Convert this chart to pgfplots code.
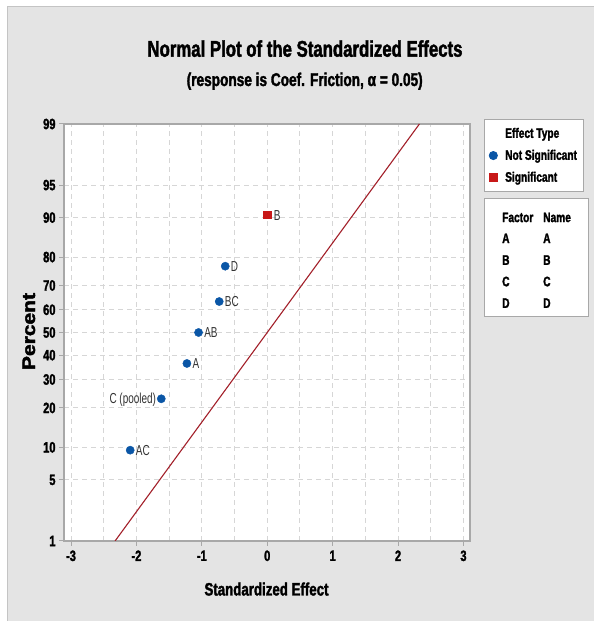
\documentclass[border=0pt]{standalone}
\usepackage{fontspec}
\setmainfont{Liberation Sans}
\newfontfamily\cond[FakeStretch=0.74, BoldFeatures={FakeBold=1.8}]{Liberation Sans}
\newfontfamily\labfont[FakeStretch=0.69]{Liberation Sans}
\usepackage{pgfplots}
\pgfplotsset{compat=1.18}

\definecolor{bggray}{HTML}{E4E4E4}
\definecolor{edgegray}{HTML}{C4C4C4}
\definecolor{framegray}{HTML}{A8A8A8}
\definecolor{gridgray}{HTML}{D6D6D6}
\definecolor{effblue}{HTML}{0A56A6}
\definecolor{effred}{HTML}{C81818}
\definecolor{refred}{HTML}{A3202A}
\definecolor{labgray}{HTML}{333333}

% compact single-marker legend image
\pgfplotsset{
  dot legend/.style={legend image code/.code={%
    \path (0bp,0bp) (9bp,0bp);
    \draw[##1] plot coordinates {(4.5bp,0bp)};}},
  effect label/.style={point meta=explicit symbolic, nodes near coords,
    nodes near coords style={inner sep=0pt, text=labgray,
      font=\labfont\fontsize{14.5}{15}\selectfont, text height=10.4bp, text depth=0pt}},
}

\begin{document}
\begin{tikzpicture}[x=1bp,y=1bp]
\useasboundingbox (0,0) rectangle (594,621);
\fill[white] (0,0) rectangle (594,621);
\fill[bggray] (7,0) rectangle (594,615);
\draw[edgegray, line width=0.8bp] (7,0) -- (7,615) -- (594,615);

% titles
\node[anchor=base] at (305,564.3)
  {\resizebox{315bp}{!}{\cond\bfseries\fontsize{24}{24}\selectfont Normal Plot of the Standardized Effects}};
\node[anchor=base] at (304.7,535)
  {\resizebox{236bp}{!}{\cond\bfseries\fontsize{18}{18}\selectfont (response is Coef. Friction, α = 0.05)}};
\node[anchor=base] at (266.5,25.5)
  {\resizebox{124bp}{!}{\cond\bfseries\fontsize{18}{18}\selectfont Standardized Effect}};
\node[anchor=base, rotate=90, inner sep=0pt] at (35,289.5)
  {\resizebox{77bp}{12.5bp}{\cond\bfseries Percent}};

\begin{axis}[
  at={(64bp,80bp)}, anchor=south west,
  scale only axis, width=406bp, height=417bp,
  xmin=-3.107, xmax=3.10, ymin=-2.3263, ymax=2.3263,
  axis background/.style={fill=white},
  axis line style={framegray, line width=1.2bp},
  xtick={-3,-2,-1,0,1,2,3},
  xticklabels={-3,-2,-1,0,1,2,3},
  minor xtick={-2.5,-1.5,-0.5,0.5,1.5,2.5},
  % normal-probability positions of the percent ticks
  ytick={-2.3263,-1.6449,-1.2816,-0.8416,-0.5244,-0.2533,0,0.2533,0.5244,0.8416,1.2816,1.6449,2.3263},
  yticklabels={1,5,10,20,30,40,50,60,70,80,90,95,99},
  tick align=outside, tick pos=left,
  major tick length=5bp, minor tick length=0pt,
  tick style={framegray, line width=1bp},
  xmajorgrids, xminorgrids, ymajorgrids,
  major grid style={gridgray, dash pattern=on 5bp off 4bp, line width=0.9bp},
  minor grid style={gridgray, dash pattern=on 5bp off 4bp, line width=0.9bp},
  tick label style={font=\cond\bfseries\fontsize{15}{15}\selectfont, text=black},
  xticklabel style={yshift=-1bp},
  legend style={at={(1.0345,1.012)}, anchor=north west,
    draw=framegray, fill=white, line width=0.8bp,
    font=\cond\bfseries\fontsize{13.8}{14}\selectfont,
    inner xsep=4bp, inner ysep=6.5bp, row sep=6.5bp,
    /tikz/every odd column/.append style={column sep=5bp}},
  legend cell align=left,
]
\addlegendimage{legend image code/.code={}}
\addlegendentry{Effect Type}

% reference line
\addplot[refred, line width=1.1bp, forget plot]
  coordinates {(-2.3263,-2.3263) (2.3263,2.3263)};

% effects that are not significant, labelled on the right
\addplot[only marks, mark=*, mark size=4.1bp, effblue, dot legend,
  effect label, nodes near coords style={anchor=west, xshift=5.5bp}]
  coordinates {
    (-2.095,-1.3129) [AC]
    (-1.228,-0.3455) [A]
    (-1.050,0) [AB]
    (-0.734,0.3455) [BC]
    (-0.642,0.7396) [D]
  };
\addlegendentry{Not Significant}

% pooled term, labelled on the left
\addplot[forget plot, only marks, mark=*, mark size=4.1bp, effblue,
  effect label, nodes near coords style={anchor=east, xshift=-5bp}]
  coordinates {(-1.62,-0.7396) [C (pooled)]};

% significant effect
\addplot[only marks, mark=square*, mark size=3.7bp, effred, dot legend,
  effect label, nodes near coords style={anchor=west, xshift=6.5bp}]
  coordinates {(0.00,1.3129) [B]};
\addlegendentry{Significant}
\end{axis}

% factor / name key
\draw[framegray, fill=white, line width=0.8bp] (484,305) rectangle (588,423);
\begin{scope}[every node/.style={anchor=base west, inner sep=0pt,
    font=\cond\bfseries\fontsize{13.8}{14}\selectfont}]
  \node at (502,398.9) {Factor};  \node at (543,398.9) {Name};
  \node at (502,377.9) {A};       \node at (543,377.9) {A};
  \node at (502,356.2) {B};       \node at (543,356.2) {B};
  \node at (502,334.7) {C};       \node at (543,334.7) {C};
  \node at (502,313.2) {D};       \node at (543,313.2) {D};
\end{scope}
\end{tikzpicture}
\end{document}
